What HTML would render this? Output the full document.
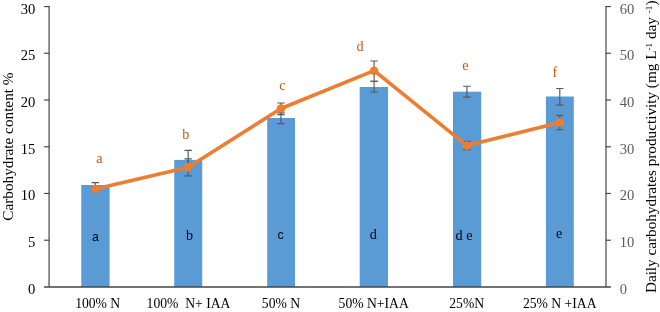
<!DOCTYPE html>
<html><head><meta charset="utf-8"><title>chart</title>
<style>html,body{margin:0;padding:0;background:#fff}svg{display:block}</style></head>
<body>
<svg width="660" height="312" viewBox="0 0 660 312">
<rect width="660" height="312" fill="#fff"/>
<rect x="81.25" y="185.0" width="28.35" height="101.95" fill="#5b9bd5"/>
<rect x="174.25" y="159.9" width="27.95" height="127.05" fill="#5b9bd5"/>
<rect x="267.2" y="118.0" width="27.80" height="168.95" fill="#5b9bd5"/>
<rect x="359.7" y="87.0" width="28.30" height="199.95" fill="#5b9bd5"/>
<rect x="453.0" y="91.7" width="28.20" height="195.25" fill="#5b9bd5"/>
<rect x="545.9" y="96.5" width="27.90" height="190.45" fill="#5b9bd5"/>
<g stroke="#6b6b6b" stroke-width="1.5" fill="none">
<path d="M49.1 5.95V286.95"/>
<path d="M606.0 5.95V286.95"/>
</g>
<g stroke="#4a4a4a" stroke-width="1.2" fill="none">
<path d="M44.10 6.55H49.6"/>
<path d="M605.5 6.55H610.9"/>
<path d="M44.10 53.28H49.6"/>
<path d="M605.5 53.28H610.9"/>
<path d="M44.10 100.02H49.6"/>
<path d="M605.5 100.02H610.9"/>
<path d="M44.10 146.75H49.6"/>
<path d="M605.5 146.75H610.9"/>
<path d="M44.10 193.48H49.6"/>
<path d="M605.5 193.48H610.9"/>
<path d="M44.10 240.22H49.6"/>
<path d="M605.5 240.22H610.9"/>
</g>
<path d="M44.10 286.95H610.9" stroke="#454545" stroke-width="1.5"/>
<g stroke="#595959" stroke-width="1.15" fill="none">
<path d="M95.30 182.60V187.40M91.60 182.60H99.00M91.60 187.40H99.00"/>
<path d="M188.20 150.30V169.50M184.50 150.30H191.90M184.50 169.50H191.90"/>
<path d="M281.00 112.80V123.60M277.30 112.80H284.70M277.30 123.60H284.70"/>
<path d="M374.10 81.20V92.00M370.40 81.20H377.80M370.40 92.00H377.80"/>
<path d="M466.90 86.20V97.10M463.20 86.20H470.60M463.20 97.10H470.60"/>
<path d="M559.80 88.50V105.10M556.10 88.50H563.50M556.10 105.10H563.50"/>
<path d="M95.30 186.80V191.20M91.60 186.80H99.00M91.60 191.20H99.00"/>
<path d="M188.20 158.80V175.80M184.50 158.80H191.90M184.50 175.80H191.90"/>
<path d="M281.00 103.00V114.60M277.30 103.00H284.70M277.30 114.60H284.70"/>
<path d="M374.10 61.00V81.20M370.40 61.00H377.80M370.40 81.20H377.80"/>
<path d="M466.90 141.30V149.60M463.20 141.30H470.60M463.20 149.60H470.60"/>
<path d="M559.80 115.40V129.70M556.10 115.40H563.50M556.10 129.70H563.50"/>
</g>
<polyline points="95.30,189.00 188.20,167.30 281.00,108.50 374.10,70.70 466.90,145.60 559.80,122.50" fill="none" stroke="#ed7d31" stroke-width="3.6" stroke-linejoin="round" stroke-linecap="round"/>
<circle cx="95.30" cy="189.00" r="4.3" fill="#ed7d31"/>
<circle cx="188.20" cy="167.30" r="4.3" fill="#ed7d31"/>
<circle cx="281.00" cy="108.50" r="4.3" fill="#ed7d31"/>
<circle cx="374.10" cy="70.70" r="4.3" fill="#ed7d31"/>
<circle cx="466.90" cy="145.60" r="4.3" fill="#ed7d31"/>
<circle cx="559.80" cy="122.50" r="4.3" fill="#ed7d31"/>
<g font-family="'Liberation Serif', serif" font-size="14.6px" fill="#000">
<text x="35.4" y="293.95" text-anchor="end">0</text>
<text x="35.4" y="247.22" text-anchor="end">5</text>
<text x="35.4" y="200.48" text-anchor="end">10</text>
<text x="35.4" y="153.75" text-anchor="end">15</text>
<text x="35.4" y="107.02" text-anchor="end">20</text>
<text x="35.4" y="60.28" text-anchor="end">25</text>
<text x="35.4" y="13.55" text-anchor="end">30</text>
</g>
<g font-family="'Liberation Serif', serif" font-size="14.6px" fill="#5a5a5a">
<text x="619.7" y="293.95">0</text>
<text x="619.7" y="247.22">10</text>
<text x="619.7" y="200.48">20</text>
<text x="619.7" y="153.75">30</text>
<text x="619.7" y="107.02">40</text>
<text x="619.7" y="60.28">50</text>
<text x="619.7" y="13.55">60</text>
</g>
<g font-family="'Liberation Serif', serif" font-size="13.65px" fill="#000" text-anchor="middle">
<text x="97.7" y="307.6" xml:space="preserve">100% N</text>
<text x="188.5" y="307.6" xml:space="preserve">100%  N+ IAA</text>
<text x="281.0" y="307.6" xml:space="preserve">50% N</text>
<text x="373.7" y="307.6" xml:space="preserve">50% N+IAA</text>
<text x="466.7" y="307.6" xml:space="preserve">25%N</text>
<text x="559.7" y="307.6" xml:space="preserve">25% N +IAA</text>
</g>
<g font-family="'Liberation Serif', serif" font-size="14.2px" fill="#c55a11" text-anchor="middle">
<text x="99.5" y="162.5">a</text>
<text x="185.8" y="139.0">b</text>
<text x="282.4" y="90.3">c</text>
<text x="360.0" y="50.8">d</text>
<text x="465.4" y="70.2">e</text>
<text x="554.9" y="76.8">f</text>
</g>
<g font-family="'Liberation Sans', sans-serif" font-size="12.2px" fill="#000" text-anchor="middle">
<text x="95.5" y="240.5">a</text>
<text x="280.5" y="239.1" font-size="12.4px">c</text>
</g>
<g font-family="'Liberation Serif', serif" font-size="14.2px" fill="#000" text-anchor="middle">
<text x="189.5" y="240.3">b</text>
<text x="373.2" y="238.8">d</text>
<text x="464" y="240">d e</text>
<text x="559.2" y="238.3">e</text>
</g>
<text transform="translate(13.2,220.7) rotate(-90)" font-family="'Liberation Serif', serif" font-size="15.25px" fill="#000">Carbohydrate content %</text>
<text transform="translate(655.9,293.1) rotate(-90)" font-family="'Liberation Serif', serif" font-size="15.22px" fill="#000">Daily carbohydrates productivity (mg L<tspan font-size="9.2px" dy="-3.8">-1</tspan><tspan dy="3.8"> day </tspan><tspan font-size="9.2px" dy="-3.8">-1</tspan><tspan dy="3.8">)</tspan></text>
</svg>
</body></html>
